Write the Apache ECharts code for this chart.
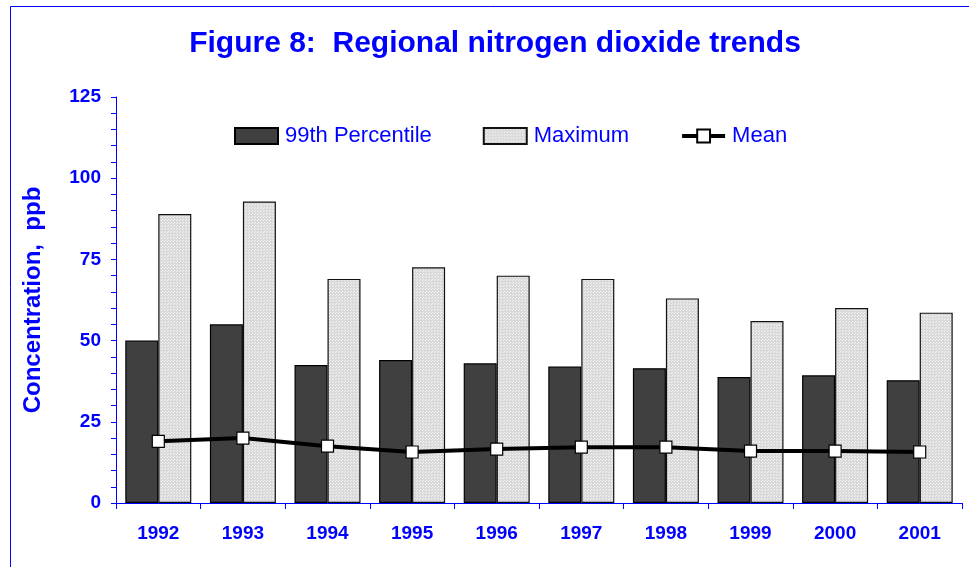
<!DOCTYPE html>
<html>
<head>
<meta charset="utf-8">
<script src="https://cdn.jsdelivr.net/npm/echarts@6/dist/echarts.min.js"></script>
<style>
  html, body { margin: 0; padding: 0; background: #fff; }
  #chart { width: 969px; height: 567px; }
</style>
</head>
<body>
<div id="chart"></div>
<script>
// data
const years = ['1992', '1993', '1994', '1995', '1996', '1997', '1998', '1999', '2000', '2001']
const p99 = [50, 55, 42.5, 44, 43, 42, 41.5, 38.8, 39.3, 37.8]
const maximum = [89, 92.8, 69, 72.6, 70, 69, 63, 56, 60, 58.6]
const mean = [19, 20, 17.5, 15.7, 16.6, 17.2, 17.2, 16, 16, 15.7]

const blue = '#0000ff'
const font = 'Liberation Sans, Arial'

// dotted fill like the light bars
function makeDots () {
    const c = document.createElement('canvas')
    c.width = 3
    c.height = 3
    const ctx = c.getContext('2d')
    ctx.fillStyle = '#d9d9d9'
    ctx.fillRect(0, 0, 3, 3)
    ctx.fillStyle = '#f4f4f4'
    ctx.fillRect(0, 0, 1, 1)
    ctx.fillRect(2, 1, 1, 1)
    return c
}
const dotFill = { image: makeDots(), repeat: 'repeat' }

const chart = echarts.init(document.getElementById('chart'), null, { renderer: 'canvas' })

chart.setOption({
    animation: false,
    backgroundColor: '#fff',
    title: {
        text: 'Figure 8:  Regional nitrogen dioxide trends',
        left: 490,
        textAlign: 'center',
        top: 24,
        textStyle: { color: blue, fontFamily: font, fontWeight: 'bold', fontSize: 30 }
    },
    graphic: [{
        type: 'rect',
        shape: { x: 10.5, y: 6.5, width: 1000, height: 700 },
        style: { fill: 'none', stroke: blue, lineWidth: 1 },
        silent: true
    }],
    legend: {
        left: 229,
        top: 120,
        itemWidth: 43,
        itemHeight: 16,
        itemGap: 51,
        textStyle: { color: blue, fontFamily: font, fontSize: 22, padding: [0, 0, 0, 2] },
        data: [
            { name: '99th Percentile', icon: 'rect' },
            { name: 'Maximum', icon: 'rect' },
            { name: 'Mean', lineStyle: { width: 4, color: '#000' } }
        ]
    },
    grid: { left: 116, right: 7, top: 97, bottom: 64 },
    xAxis: {
        type: 'category',
        data: years,
        axisLine: { lineStyle: { color: blue, width: 1 } },
        axisTick: { show: true, length: 6, alignWithLabel: false, lineStyle: { color: blue } },
        axisLabel: { color: blue, fontFamily: font, fontWeight: 'bold', fontSize: 19, margin: 21 }
    },
    yAxis: {
        type: 'value',
        min: 0,
        max: 125,
        interval: 25,
        name: 'Concentration,  ppb',
        nameLocation: 'middle',
        nameGap: 71,
        nameTextStyle: { color: blue, fontFamily: font, fontWeight: 'bold', fontSize: 24 },
        axisLine: { show: true, lineStyle: { color: blue, width: 1 } },
        axisTick: { show: true, length: 5, lineStyle: { color: blue } },
        minorTick: { show: true, splitNumber: 5, length: 5, lineStyle: { color: blue } },
        splitLine: { show: false },
        axisLabel: { color: blue, fontFamily: font, fontWeight: 'bold', fontSize: 19, margin: 15 }
    },
    series: [
        {
            name: '99th Percentile',
            type: 'bar',
            data: p99,
            barWidth: 33,
            barGap: '0%',
            itemStyle: { color: '#404040', borderColor: '#000', borderWidth: 1.2 }
        },
        {
            name: 'Maximum',
            type: 'bar',
            data: maximum,
            barWidth: 33,
            itemStyle: { color: dotFill, borderColor: '#111', borderWidth: 1.2 }
        },
        {
            name: 'Mean',
            type: 'line',
            data: mean,
            symbol: 'rect',
            symbolSize: 12,
            z: 5,
            lineStyle: { color: '#000', width: 4 },
            itemStyle: { color: '#fff', borderColor: '#000', borderWidth: 1.2 }
        }
    ]
})
</script>
</body>
</html>
